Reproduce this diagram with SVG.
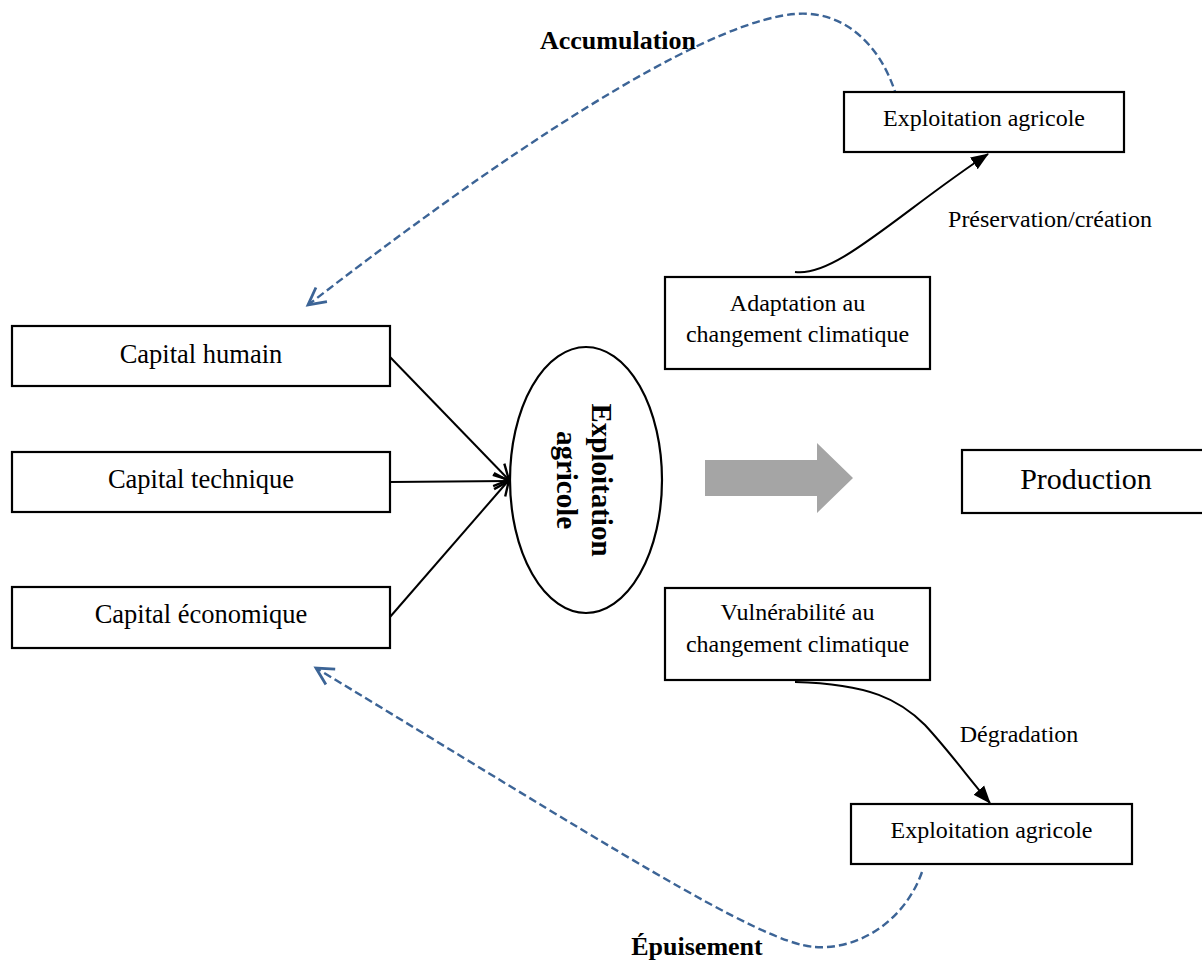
<svg xmlns="http://www.w3.org/2000/svg" width="1202" height="960" viewBox="0 0 1202 960">
  <style>
    .box { fill: #ffffff; stroke: #000000; stroke-width: 2.2; }
    .t { font-family: "Liberation Serif", "Times New Roman", serif; fill: #000000; text-anchor: middle; }
    .cap { font-size: 26.5px; }
    .sm { font-size: 24px; }
    .b { font-weight: bold; font-size: 26px; }
    .conn { fill: none; stroke: #000000; stroke-width: 2; }
    .dash { fill: none; stroke: #3c6496; stroke-width: 2.4; stroke-dasharray: 8 4; }
  </style>
  <defs>
    <marker id="openBlack" markerUnits="userSpaceOnUse" viewBox="0 0 20 20" refX="18" refY="10" markerWidth="20" markerHeight="20" orient="auto">
      <path d="M3,2 L18,10 L3,18" fill="none" stroke="#000000" stroke-width="2.4"/>
    </marker>
    <marker id="openBlue" markerUnits="userSpaceOnUse" viewBox="0 0 24 24" refX="21" refY="12" markerWidth="24" markerHeight="24" orient="auto">
      <path d="M4,3 L21,12 L4,21" fill="none" stroke="#3c6496" stroke-width="2.8" stroke-dasharray="none"/>
    </marker>
    <marker id="solid" markerUnits="userSpaceOnUse" viewBox="0 0 18 16" refX="17" refY="8" markerWidth="18" markerHeight="16" orient="auto">
      <path d="M0,1 L18,8 L0,15 z" fill="#000000"/>
    </marker>
  </defs>

  <g id="connectors">
    <line class="conn" x1="390" y1="357" x2="509" y2="480" marker-end="url(#openBlack)"/>
    <line class="conn" x1="390" y1="482" x2="509" y2="481" marker-end="url(#openBlack)"/>
    <line class="conn" x1="390" y1="617" x2="509" y2="480" marker-end="url(#openBlack)"/>
    <path class="conn" d="M 795 272 C 835 278, 900 212, 988 154" marker-end="url(#solid)"/>
    <path class="conn" d="M 795 682 C 870 684, 900 700, 925 725 C 950 752, 970 780, 990 803" marker-end="url(#solid)"/>
    <path class="dash" d="M 897 98 C 880 40, 840 10, 795 14 C 720 20, 560 110, 308 305" marker-end="url(#openBlue)"/>
    <path class="dash" d="M 922 872 C 905 920, 860 950, 815 947 C 760 944, 600 840, 316 668" marker-end="url(#openBlue)"/>
    <polygon id="big-arrow" points="705,460 817,460 817,443 853,478 817,513 817,496 705,496" fill="#a5a5a5"/>
    <text class="t b" x="618" y="49">Accumulation</text>
    <text class="t b" x="697" y="955">Épuisement</text>
    <text class="t sm" x="1050" y="227">Préservation/création</text>
    <text class="t sm" x="1019" y="742">Dégradation</text>
  </g>

  <g id="capital-humain">
    <rect class="box" x="12" y="326" width="378" height="60"/>
    <text class="t cap" x="201" y="363">Capital humain</text>
  </g>
  <g id="capital-technique">
    <rect class="box" x="12" y="452" width="378" height="60"/>
    <text class="t cap" x="201" y="488">Capital technique</text>
  </g>
  <g id="capital-economique">
    <rect class="box" x="12" y="587" width="378" height="61"/>
    <text class="t cap" x="201" y="623">Capital économique</text>
  </g>
  <g id="exploitation-centre">
    <ellipse cx="586" cy="480" rx="76" ry="133" fill="#ffffff" stroke="#000000" stroke-width="2.2"/>
    <text class="t" font-weight="bold" font-size="29" transform="translate(592,480) rotate(90)">Exploitation</text>
    <text class="t" font-weight="bold" font-size="29" transform="translate(557,480) rotate(90)">agricole</text>
  </g>
  <g id="production">
    <rect class="box" x="962" y="450" width="260" height="63"/>
    <text class="t" font-size="30" x="1086" y="489">Production</text>
  </g>
  <g id="adaptation">
    <rect class="box" x="665" y="277" width="265" height="92"/>
    <text class="t sm" x="797.5" y="311">Adaptation au</text>
    <text class="t sm" x="797.5" y="342">changement climatique</text>
  </g>
  <g id="vulnerabilite">
    <rect class="box" x="665" y="588" width="265" height="92"/>
    <text class="t sm" x="797.5" y="620">Vulnérabilité au</text>
    <text class="t sm" x="797.5" y="652">changement climatique</text>
  </g>
  <g id="exploitation-haut">
    <rect class="box" x="844" y="92" width="280" height="60"/>
    <text class="t sm" x="984" y="126">Exploitation agricole</text>
  </g>
  <g id="exploitation-bas">
    <rect class="box" x="851" y="804" width="281" height="60"/>
    <text class="t sm" x="991.5" y="838">Exploitation agricole</text>
  </g>
</svg>
